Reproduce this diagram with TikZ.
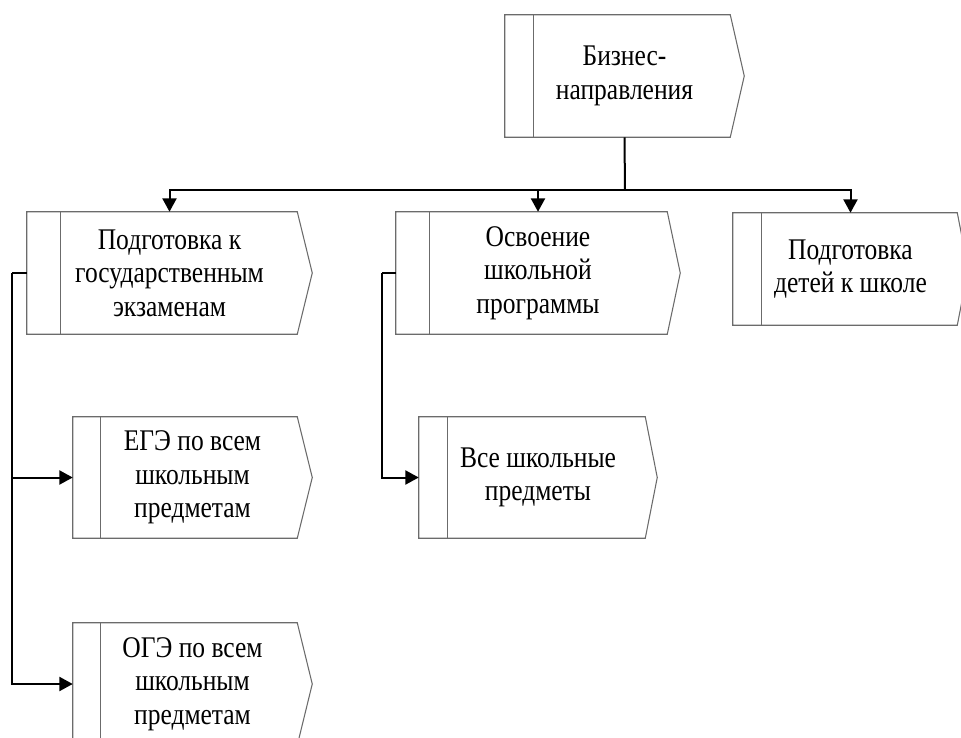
\documentclass[tikz,border=0pt]{standalone}
\usepackage{fontspec}
\setmainfont[FakeStretch=0.85]{Liberation Serif}
\usetikzlibrary{arrows.meta}
\begin{document}
\begin{tikzpicture}[x=0.75pt,y=-0.75pt,
  proc/.style n args={2}{rectangle, draw=none, inner sep=0pt, align=center,
    minimum width=#1*0.75pt, minimum height=#2*0.75pt,
    font=\fontsize{22.5}{25}\selectfont},
  boxline/.style={draw=black!58, line width=0.8pt, line join=miter},
  conn/.style={draw=black, line width=1.5pt},
  arr/.style={conn, -{Triangle[length=10pt,width=10.5pt]}}
]
\useasboundingbox (0,0) rectangle (961,738);

\node[proc={239}{122}] (top) at (624.5,76) {Бизнес-\\направления};
\node[proc={285}{122}] (p1) at (169.5,273) {Подготовка к\\государственным\\экзаменам};
\node[proc={284}{122}] (p2) at (538,273) {Освоение\\школьной\\программы};
\node[proc={235}{112}] (p3) at (850.5,269) {Подготовка\\детей к школе};
\node[proc={239}{121}] (ege) at (192.5,477.5) {ЕГЭ по всем\\школьным\\предметам};
\node[proc={238}{121}] (vse) at (538,477.5) {Все школьные\\предметы};
\node[proc={239}{122}] (oge) at (192.5,684) {ОГЭ по всем\\школьным\\предметам};

\foreach \n/\b/\t in {top/29/14, p1/34/15, p2/34/13, p3/29/11, ege/28/15, vse/29/12, oge/28/15}{
  \draw[boxline] (\n.north west) -- ([xshift=-\t*0.75pt]\n.north east) -- (\n.east)
     -- ([xshift=-\t*0.75pt]\n.south east) -- (\n.south west) -- cycle;
  \draw[boxline] ([xshift=\b*0.75pt]\n.north west) -- ([xshift=\b*0.75pt]\n.south west);
}

\coordinate (bus) at (625,190);
\draw[conn] (top.south) -- (bus);
\draw[arr] (bus) -| (p1.north);
\draw[arr] (bus) -| (p2.north);
\draw[arr] (bus) -| (p3.north);

\coordinate (l1) at (12,273);
\draw[conn] (p1.west) -- (l1);
\draw[arr] (l1) |- (ege.west);
\draw[arr] (l1) |- (oge.west);

\coordinate (l2) at (382,273);
\draw[conn] (p2.west) -- (l2);
\draw[arr] (l2) |- (vse.west);
\end{tikzpicture}
\end{document}
